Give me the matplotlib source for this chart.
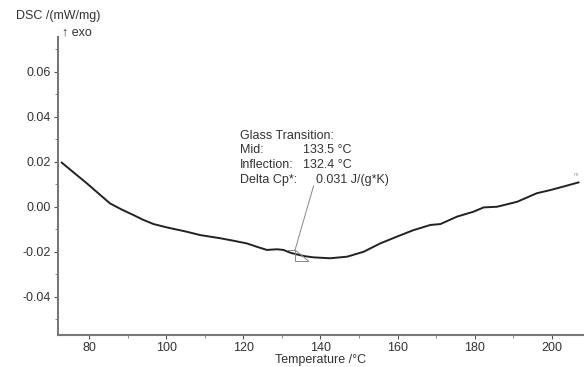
import matplotlib
matplotlib.use("Agg")
import matplotlib.pyplot as plt
from matplotlib.ticker import MultipleLocator, FormatStrFormatter

plt.rcParams['font.family'] = ['Liberation Sans', 'DejaVu Sans']

# DSC curve
temp = [72.9, 76.0, 79.4, 82.5, 85.4, 88.5, 91.5, 94.0, 96.7, 100.2, 105.3,
        108.8, 114.0, 117.4, 120.9, 123.5, 126.1, 128.7, 130.4, 132.1, 133.9,
        136.0, 138.2, 142.5, 146.9, 151.2, 155.5, 159.8, 164.1, 168.5, 171.1,
        175.4, 179.7, 182.3, 185.8, 191.0, 196.1, 199.6, 203.5, 206.9]
dsc = [0.0196, 0.0152, 0.0104, 0.0058, 0.0015, -0.0013, -0.0037, -0.0058,
       -0.0077, -0.0092, -0.0111, -0.0126, -0.0140, -0.0151, -0.0163, -0.0178,
       -0.0192, -0.0189, -0.0192, -0.0204, -0.0212, -0.0220, -0.0225, -0.0229,
       -0.0222, -0.0200, -0.0163, -0.0133, -0.0104, -0.0081, -0.0077, -0.0044,
       -0.0022, -0.0003, 0.0000, 0.0022, 0.0060, 0.0074, 0.0092, 0.0108]

# glass transition construction lines
tg_top_x = [131.7, 133.4]
tg_top_y = [-0.0192, -0.0192]
tg_step_x = [133.4, 133.4, 136.8]
tg_step_y = [-0.0192, -0.0240, -0.0240]
tg_diag_x = [133.4, 136.8]
tg_diag_y = [-0.0192, -0.0240]
leader_x = [138.2, 133.4]
leader_y = [0.0092, -0.0192]

result_labels = ["Mid:", "Inflection:", "Delta Cp*:"]
result_values = ["133.5 °C", "132.4 °C", "0.031 J/(g*K)"]
value_x = [135.4, 135.4, 138.9]

fig = plt.figure(figsize=(5.84, 3.67), dpi=100)
ax = fig.add_axes([0.0998, 0.0872, 0.898, 0.8112])

ax.plot(temp, dsc, color='#222222', lw=1.4)

ax.plot(tg_top_x, tg_top_y, color='#888888', lw=0.7)
ax.plot(tg_step_x, tg_step_y, color='#888888', lw=0.7)
ax.plot(tg_diag_x, tg_diag_y, color='#888888', lw=0.7)
ax.plot(leader_x, leader_y, color='#888888', lw=0.7)

ax.set_xlim(72.0, 208.0)
ax.set_ylim(-0.057, 0.0753)

ax.xaxis.set_major_locator(MultipleLocator(20))
ax.xaxis.set_minor_locator(MultipleLocator(10))
ax.yaxis.set_major_locator(MultipleLocator(0.02))
ax.yaxis.set_minor_locator(MultipleLocator(0.01))
ax.yaxis.set_major_formatter(FormatStrFormatter('%.2f'))

for s in ['top', 'right']:
    ax.spines[s].set_visible(False)
for s in ['left', 'bottom']:
    ax.spines[s].set_color('#777777')
    ax.spines[s].set_linewidth(1.5)

ax.tick_params(which='major', length=3, width=0.8, color='#555555',
               labelsize=9, labelcolor='#333333', pad=2)
ax.tick_params(which='minor', length=2, width=0.6, color='#777777')

ax.set_xlabel('Temperature /°C', fontsize=9, color='#333333', labelpad=0)

fig.text(15.5 / 584, 1 - 16 / 367, 'DSC /(mW/mg)', fontsize=9, color='#333333',
         ha='left', va='center')
fig.text(62 / 584, 1 - 32 / 367, '↑ exo', fontsize=9, color='#333333',
         ha='left', va='center')

# result text block
x0, y0, dy = 119.0, 0.0316, -0.0065
ax.text(x0, y0, 'Glass Transition:', fontsize=9, color='#333333', va='center')
for i, (lab, val) in enumerate(zip(result_labels, result_values)):
    y = y0 + dy * (i + 1)
    ax.text(x0, y, lab, fontsize=9, color='#333333', va='center')
    ax.text(value_x[i], y, val, fontsize=9, color='#333333', va='center')

ax.text(temp[-1] - 0.7, dsc[-1] + 0.0025, 'm', fontsize=4, color='#999999',
        ha='center', va='bottom')

fig.savefig('out.png', dpi=100)
